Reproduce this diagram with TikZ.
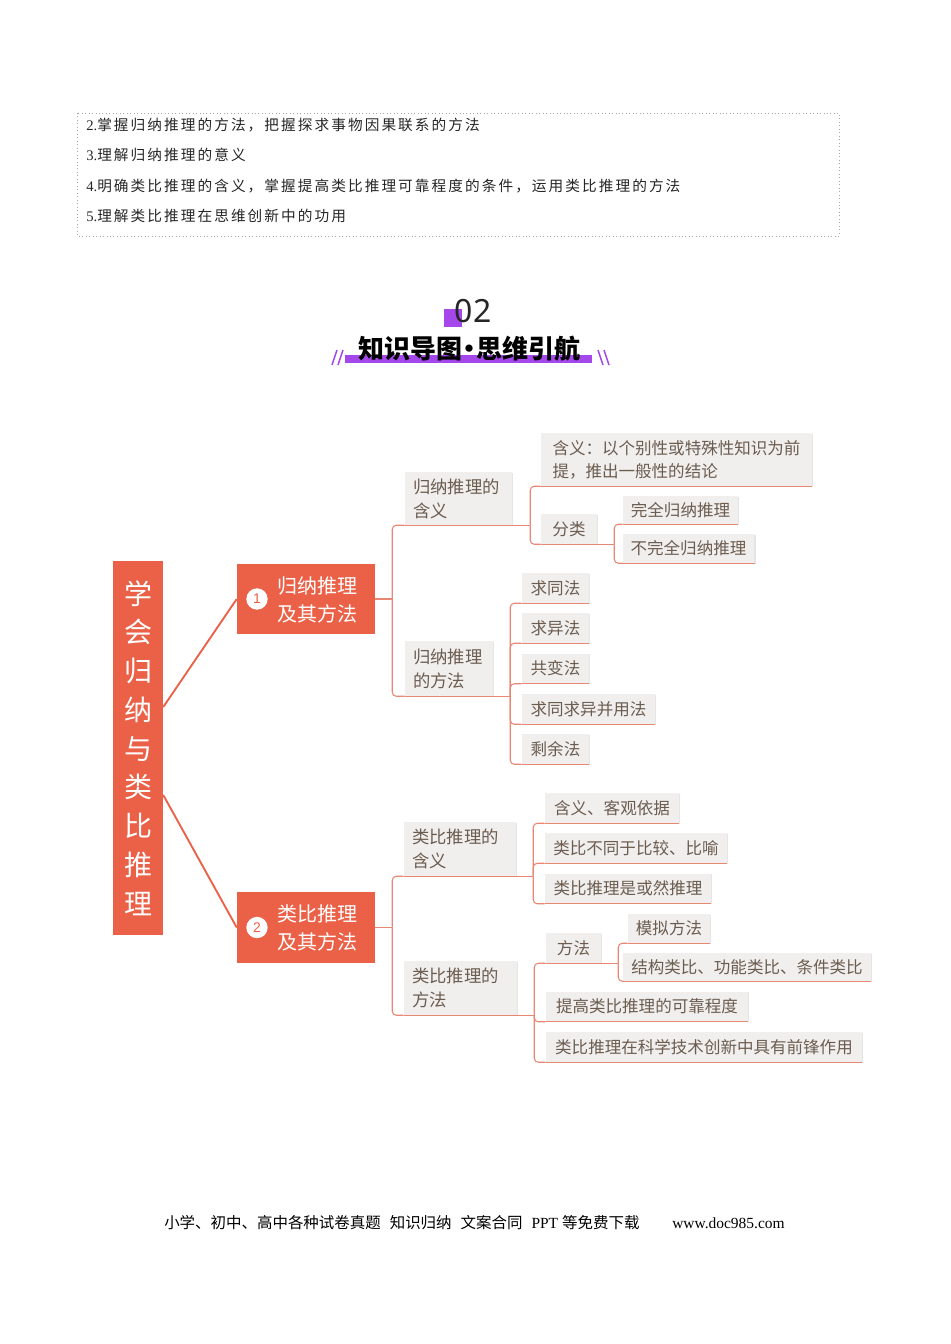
\documentclass[tikz,border=0pt]{standalone}
\usepackage{fontspec}
\setmainfont{Liberation Serif}
\newfontfamily\cjk{Noto Sans CJK SC}
\newfontfamily\cjkls[LetterSpace=14]{Noto Sans CJK SC}
\newfontfamily\lsans{Liberation Sans}
\newfontfamily\nsans{Noto Sans}
\usetikzlibrary{shadows}
\definecolor{orng}{RGB}{235,97,72}
\definecolor{connc}{RGB}{232,135,115}
\definecolor{boxg}{RGB}{240,239,238}
\definecolor{txtb}{RGB}{108,92,80}
\definecolor{purp}{RGB}{165,72,235}
\tikzset{
  rootbox/.style={fill=orng, minimum width=37.5pt, minimum height=280.5pt, inner sep=0pt,
    text=white, font=\cjk\fontsize{21}{29.06}\selectfont, align=center},
  orngbox/.style={fill=orng, minimum width=103.5pt, minimum height=52.5pt, inner sep=0pt},
  otext/.style={text=white, font=\cjk\fontsize{15}{21}\selectfont, align=left, inner sep=0pt},
  numc/.style={circle, fill=white, minimum size=16pt, inner sep=0pt, text=orng,
    font=\lsans\fontsize{10.5}{10.5}\selectfont},
  shad/.style={drop shadow={shadow xshift=0.9pt, shadow yshift=-0.6pt, fill=black, opacity=0.10}},
  midbox/.style={shad, fill=boxg, text=txtb, font=\cjk\fontsize{13}{18}\selectfont, align=left,
    inner xsep=6pt, inner ysep=0pt},
  leaf/.style={shad, fill=boxg, text=txtb, font=\cjk\fontsize{12.4}{17.25}\selectfont,
    inner xsep=6pt, inner ysep=0pt, minimum height=22.5pt},
  cline/.style={draw=connc, line width=0.8pt},
  rline/.style={draw=orng, line width=1.4pt},
  goal/.style={anchor=west, inner sep=0pt, text=black!85, font=\fontsize{11}{13}\selectfont},
  foot/.style={anchor=west, inner sep=0pt, text=black, font=\fontsize{11.6}{13}\selectfont}
}
\begin{document}
\begin{tikzpicture}[x=0.75pt,y=-0.75pt]
\path[use as bounding box] (0,0) rectangle (950,1344);

% ---- objectives box ----
\draw[gray!70, dotted, line width=0.6pt] (77,113) rectangle (839,236);
\node[goal] (g2) at (86,125) {2.{\cjkls 掌握归纳推理的方法，把握探求事物因果联系的方法}};
\node[goal] (g3) at (86,155) {3.{\cjkls 理解归纳推理的意义}};
\node[goal] (g4) at (86,186) {4.{\cjkls 明确类比推理的含义，掌握提高类比推理可靠程度的条件，运用类比推理的方法}};
\node[goal] (g5) at (86,216) {5.{\cjkls 理解类比推理在思维创新中的功用}};

% ---- title ----
\fill[purp] (444,309) rectangle (462,327);
\node[inner sep=0pt, text=black!85, font=\nsans\fontsize{24}{24}\selectfont] (t02) at (473,311) {02};
\fill[purp] (345,355) rectangle (592,363);
\node[inner sep=0pt, text=black, font=\cjk\bfseries\fontsize{19.5}{19.5}\selectfont] (ttl) at (469,349) {知识导图\kern-4.5pt·\kern-4.5pt思维引航};
\draw[purp, line width=1.1pt] (332,365) -- (337,350) (338,365) -- (343,350);
\draw[purp, line width=1.1pt] (598,350) -- (603,365) (604,350) -- (609,365);

% ---- root ----
\node[rootbox] (root) at (138,748) {学\\会\\归\\纳\\与\\类\\比\\推\\理};

% ---- level 1 ----
\node[orngbox] (n1) at (306,599) {};
\node[numc] (n1c) at (257,599) {1};
\node[otext] (n1t) at (317,600) {归纳推理\\及其方法};
\node[orngbox, minimum height=53pt] (n2) at (306,927.5) {};
\node[numc] (n2c) at (257,927.5) {2};
\node[otext] (n2t) at (317,928) {类比推理\\及其方法};

\draw[rline] ([yshift=30.75pt]root.east) -- (n1.west);
\draw[rline] ([yshift=-35.25pt]root.east) -- (n2.west);

% ---- level 2 ----
\node[midbox, text width=68.25pt, minimum height=39.75pt] (A1) at (458.5,498.5) {归纳推理的\\含义};
\node[midbox, text width=54pt, minimum height=41.25pt] (A2) at (449,668.5) {归纳推理\\的方法};
\node[midbox, text width=72pt, minimum height=40.5pt] (B1) at (460,849) {类比推理的\\含义};
\node[midbox, text width=72.75pt, minimum height=40.5pt] (B2) at (460.5,988) {类比推理的\\方法};

% ---- leaves ----
\node[leaf, align=left, minimum width=203.25pt, minimum height=39.75pt] (c11) at (676.5,459.5) {含义：以个别性或特殊性知识为前\\提，推出一般性的结论};
\node[leaf, minimum width=42pt] (c12) at (569,529) {分类};
\node[leaf, minimum width=83.25pt, minimum height=21pt] (c121) at (680.5,510) {完全归纳推理};
\node[leaf, minimum width=95.25pt, minimum height=21.75pt] (c122) at (688.5,548.5) {不完全归纳推理};

\node[leaf, minimum width=50.25pt] (m1) at (555.5,588) {求同法};
\node[leaf, minimum width=50.25pt] (m2) at (555.5,628) {求异法};
\node[leaf, minimum width=50.25pt] (m3) at (555.5,668.5) {共变法};
\node[leaf, minimum width=99.75pt] (m4) at (588.5,709) {求同求异并用法};
\node[leaf, minimum width=50.25pt] (m5) at (555.5,749) {剩余法};

\node[leaf, minimum width=100.5pt] (b11) at (612,808) {含义、客观依据};
\node[leaf, minimum width=136.5pt] (b12) at (636,848) {类比不同于比较、比喻};
\node[leaf, minimum width=124.5pt] (b13) at (628,888.5) {类比推理是或然推理};

\node[leaf, minimum width=41.25pt] (b21) at (573.5,948) {方法};
\node[leaf, minimum width=60pt, minimum height=21.75pt] (b211) at (669,928.5) {模拟方法};
\node[leaf, minimum width=177pt, minimum height=21pt] (b212) at (747,967) {结构类比、功能类比、条件类比};
\node[leaf, minimum width=151.5pt] (b22) at (647,1006.5) {提高类比推理的可靠程度};
\node[leaf, minimum width=237pt] (b23) at (704,1047) {类比推理在科学技术创新中具有前锋作用};

% ---- underlines ----
\foreach \n in {A1,A2,B1,B2,c11,c12,c121,c122,m1,m2,m3,m4,m5,b11,b12,b13,b21,b211,b212,b22,b23}
  \draw[cline] (\n.south west) -- (\n.south east);

% ---- connectors ----
\draw[cline] (n1.east) -- ++(17,0) coordinate (t1);
\foreach \c in {A1,A2} \draw[cline, rounded corners=3pt] (t1) |- (\c.south west);
\draw[cline] (n2.east) -- ++(17,0) coordinate (t2);
\foreach \c in {B1,B2} \draw[cline, rounded corners=3pt] (t2) |- (\c.south west);

\draw[cline] (A1.south east) -- ++(18,0) coordinate (tA1);
\foreach \c in {c11,c12} \draw[cline, rounded corners=3pt] (tA1) |- (\c.south west);
\draw[cline] (c12.south east) -- ++(17,0) coordinate (tc12);
\foreach \c in {c121,c122} \draw[cline, rounded corners=3pt] (tc12) |- (\c.south west);

\draw[cline] (A2.south east) -- ++(17,0) coordinate (tA2);
\foreach \c in {m1,m2,m3,m4,m5} \draw[cline, rounded corners=3pt] (tA2) |- (\c.south west);

\draw[cline] (B1.south east) -- ++(17,0) coordinate (tB1);
\foreach \c in {b11,b12,b13} \draw[cline, rounded corners=3pt] (tB1) |- (\c.south west);
\draw[cline] (B2.south east) -- ++(17,0) coordinate (tB2);
\foreach \c in {b21,b22,b23} \draw[cline, rounded corners=3pt] (tB2) |- (\c.south west);
\draw[cline] (b21.south east) -- ++(17,0) coordinate (tb21);
\foreach \c in {b211,b212} \draw[cline, rounded corners=3pt] (tb21) |- (\c.south west);

% ---- footer ----
\node[foot] (ft1) at (164,1223) {{\cjk 小学、初中、高中各种试卷真题}\hspace{6.75pt}{\cjk 知识归纳}\hspace{6.75pt}{\cjk 文案合同}\hspace{6.75pt}PPT\hspace{3pt}{\cjk 等免费下载}};
\node[foot] (ft2) at (672,1223) {www.doc985.com};
\end{tikzpicture}
\end{document}
